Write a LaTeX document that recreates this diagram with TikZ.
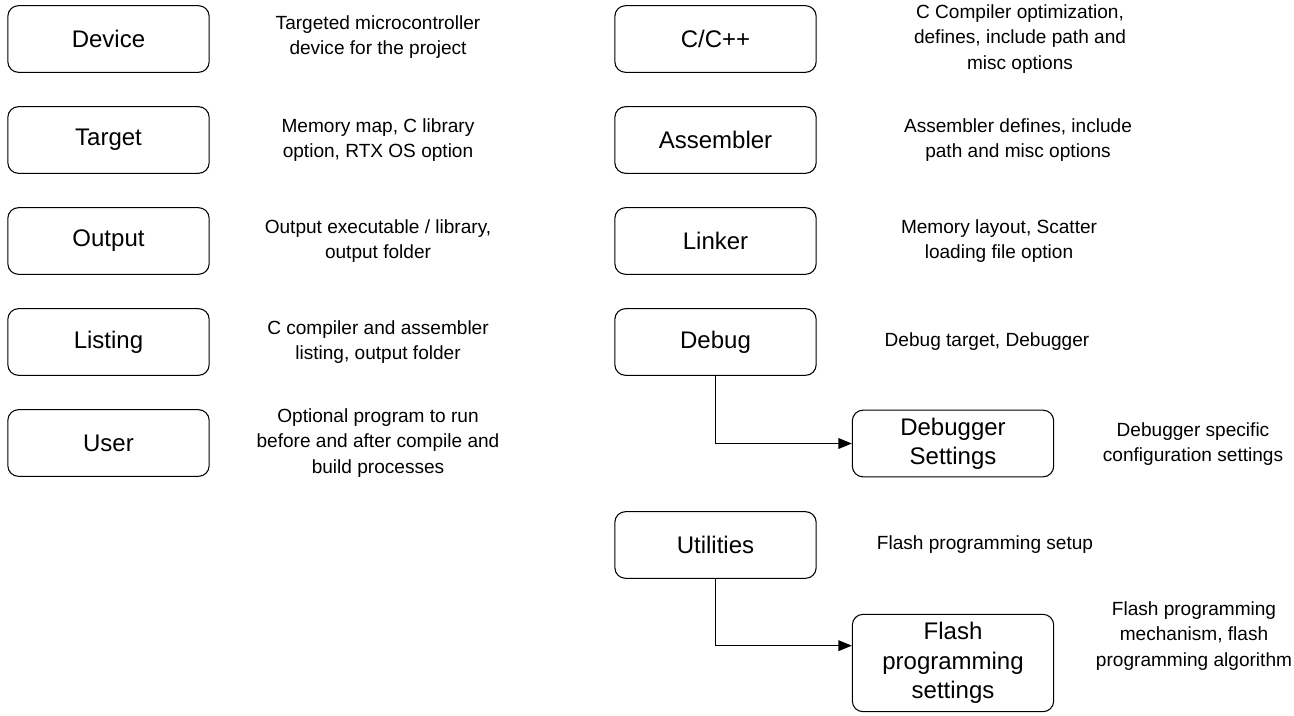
\documentclass[tikz,border=0pt]{standalone}
\usepackage{fontspec}
\setmainfont{Liberation Sans}
\usepackage{tikz}
\usetikzlibrary{arrows.meta, positioning}
\definecolor{boxline}{RGB}{0, 0, 0}
\tikzset{
    optbox/.style={draw=boxline, line width=0.8pt, rounded corners=8pt, fill=white,
        minimum width=151pt, minimum height=50pt, align=center,
        font=\fontsize{18}{22}\selectfont},
    optdesc/.style={align=center, font=\fontsize{14.3}{19}\selectfont},
    optarrow/.style={line width=0.8pt, -{Triangle[length=10pt, width=8pt]}}
}
\begin{document}
\begin{tikzpicture}[x=0.75pt, y=-0.75pt]
        \useasboundingbox (0, 0) rectangle (1294, 715);
        % left column
        \node[optbox] (device) at (108.5, 39) {Device};
        \node[optbox] (target) at (108.5, 140) {Target};
        \node[optbox] (output) at (108.5, 241) {Output};
        \node[optbox] (listing) at (108.5, 342) {Listing};
        \node[optbox] (user) at (108.5, 443) {User};
        \node[optdesc] (device-d) at (378, 37) {Targeted microcontroller\\device for the project};
        \node[optdesc] (target-d) at (378, 140) {Memory map, C library\\option, RTX OS option};
        \node[optdesc] (output-d) at (378, 241) {Output executable / library,\\output folder};
        \node[optdesc] (listing-d) at (378, 342) {C compiler and assembler\\listing, output folder};
        \node[optdesc] (user-d) at (378, 443) {Optional program to run\\before and after compile and\\build processes};
        % right column
        \node[optbox] (cpp) at (715.5, 39) {C/C++};
        \node[optbox] (assembler) at (715.5, 140) {Assembler};
        \node[optbox] (linker) at (715.5, 241) {Linker};
        \node[optbox] (debug) at (715.5, 342) {Debug};
        \node[optbox] (dbgset) at (953, 443.5) {Debugger\\Settings};
        \node[optbox] (utilities) at (715.5, 545) {Utilities};
        \node[optbox, minimum height=73pt] (flashset) at (953, 663) {Flash\\programming\\settings};
        \node[optdesc] (cpp-d) at (1020, 39) {C Compiler optimization,\\defines, include path and\\misc options};
        \node[optdesc] (assembler-d) at (1018, 140) {Assembler defines, include\\path and misc options};
        \node[optdesc] (linker-d) at (999, 241) {Memory layout, Scatter\\loading file option};
        \node[optdesc] (debug-d) at (987, 342) {Debug target, Debugger};
        \node[optdesc] (dbgset-d) at (1193, 444) {Debugger specific\\configuration settings};
        \node[optdesc] (utilities-d) at (985, 545) {Flash programming setup};
        \node[optdesc] (flashset-d) at (1194, 636) {Flash programming\\mechanism, flash\\programming algorithm};
        % connectors
        \draw[optarrow] (debug.south) |- (dbgset.west);
        \draw[optarrow] (utilities.south) |- ([yshift=13pt]flashset.west);
    \end{tikzpicture}
\end{document}
